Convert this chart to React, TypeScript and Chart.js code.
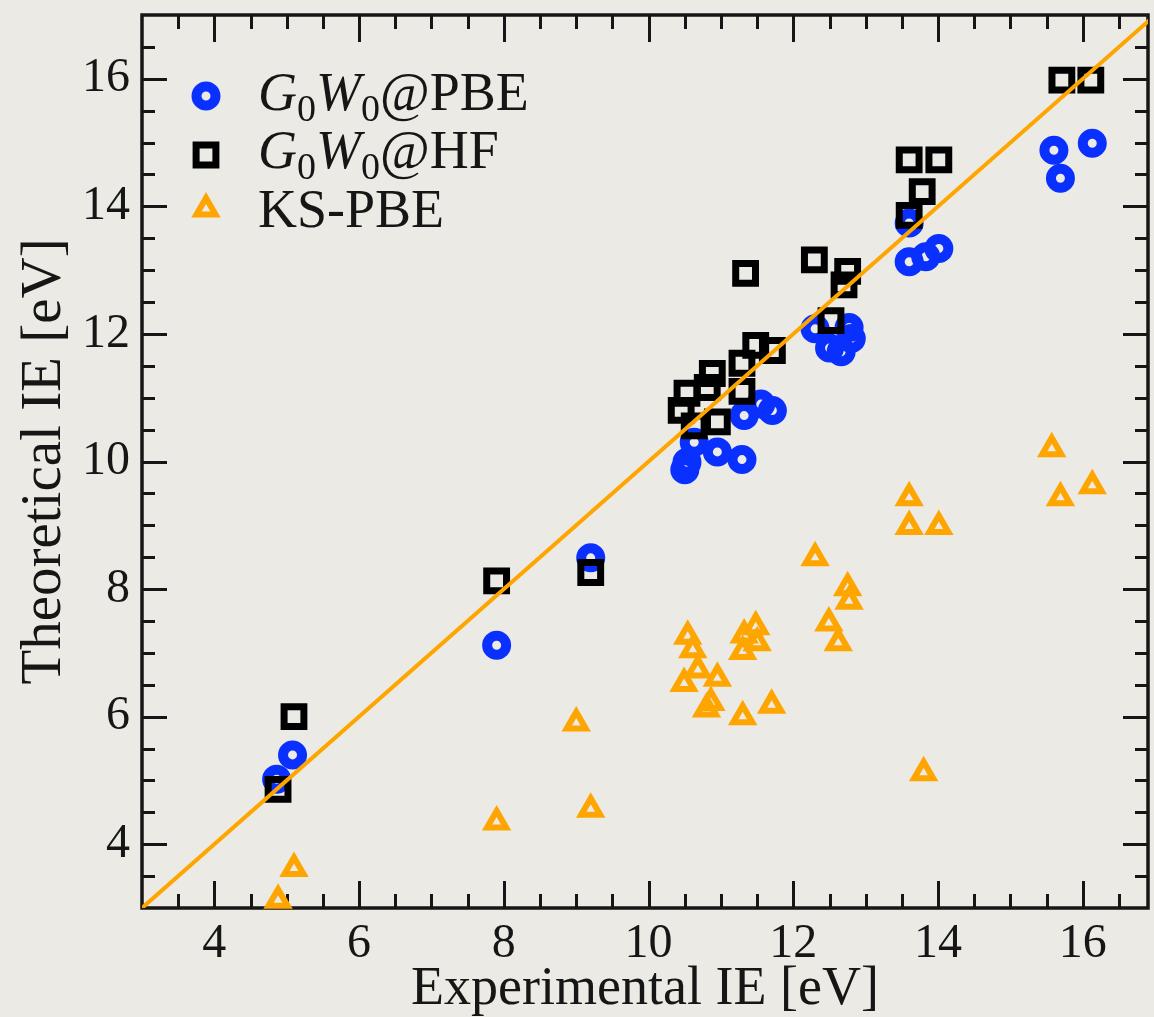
import React, { useEffect, useRef } from 'react';
import { Chart, registerables } from 'chart.js';

Chart.register(...registerables);

// ---- axes / ticks ----
const xRange = [3, 16.9];
const yRange = [3, 17];
const xMajorTicks = [4, 6, 8, 10, 12, 14, 16];
const yMajorTicks = [4, 6, 8, 10, 12, 14, 16];
const minorStep = 0.5;
const xTitle = 'Experimental IE [eV]';
const yTitle = 'Theoretical IE [eV]';

// ---- series (experimental IE, theoretical IE) ----
const seriesLabels = ['G₀W₀@PBE', 'G₀W₀@HF', 'KS-PBE'];

const g0w0PbePoints: [number, number][] = [
  [4.86, 5.02], [5.08, 5.4], [7.9, 7.12], [9.2, 8.49],
  [10.5, 9.87], [10.53, 9.99], [10.63, 10.3], [10.95, 10.15], [11.29, 10.03],
  [11.32, 10.72], [11.55, 10.9], [11.71, 10.8],
  [12.3, 12.08], [12.5, 11.78], [12.66, 11.72], [12.77, 12.1], [12.8, 11.93],
  [13.6, 13.74], [13.6, 13.13], [13.83, 13.21], [14.01, 13.34],
  [15.6, 14.88], [15.69, 14.44], [16.13, 14.99],
];

const g0w0HfPoints: [number, number][] = [
  [4.88, 4.86], [5.1, 6.0], [7.9, 8.13], [9.2, 8.26],
  [10.45, 10.8], [10.53, 11.07], [10.63, 10.56], [10.81, 11.16], [10.88, 11.38],
  [10.95, 10.62], [11.29, 11.1], [11.29, 11.54], [11.34, 12.95], [11.48, 11.82],
  [11.71, 11.74], [12.29, 13.16], [12.52, 12.21], [12.7, 12.77], [12.75, 12.98],
  [13.6, 13.86], [13.6, 14.73], [13.78, 14.23], [14.01, 14.73],
  [15.71, 15.98], [16.11, 15.98],
];

const ksPbePoints: [number, number][] = [
  [4.88, 3.12], [5.1, 3.62], [7.9, 4.35], [9.0, 5.9], [9.2, 4.55],
  [10.49, 6.52], [10.54, 7.26], [10.61, 7.05], [10.68, 6.73], [10.8, 6.12],
  [10.86, 6.22], [10.95, 6.6], [11.3, 6.0], [11.3, 7.02], [11.32, 7.28],
  [11.48, 7.41], [11.5, 7.16], [11.7, 6.18],
  [12.3, 8.49], [12.49, 7.47], [12.62, 7.16], [12.75, 8.02], [12.77, 7.81],
  [13.6, 9.43], [13.6, 8.98], [14.01, 8.98], [13.8, 5.12],
  [15.57, 10.2], [15.69, 9.43], [16.13, 9.62],
];

// y = x reference line
const diagonalPoints: [number, number][] = [[3, 3], [17, 17]];

// ---- styles ----
const BG = '#ebeae4';
const INK = '#161616';
const BLUE = '#0a30ff';
const ORANGE = '#ffa500';
const FONT = "'Liberation Serif', 'DejaVu Serif', serif";

const markerStyles = [
  { pointStyle: 'circle', radius: 9.5, borderWidth: 10, color: BLUE },
  { pointStyle: 'rect', radius: 14, borderWidth: 7, color: '#000000' },
  { pointStyle: 'triangle', radius: 11, borderWidth: 6, color: ORANGE },
];

function drawMarker(ctx: CanvasRenderingContext2D, style: string, x: number, y: number, r: number) {
  ctx.beginPath();
  if (style === 'circle') {
    ctx.arc(x, y, r, 0, Math.PI * 2);
  } else if (style === 'rect') {
    const s = Math.SQRT1_2 * r;
    ctx.rect(x - s, y - s, 2 * s, 2 * s);
  } else {
    let rad = 0;
    ctx.moveTo(x + Math.sin(rad) * r, y - Math.cos(rad) * r);
    rad += (2 * Math.PI) / 3;
    ctx.lineTo(x + Math.sin(rad) * r, y - Math.cos(rad) * r);
    rad += (2 * Math.PI) / 3;
    ctx.lineTo(x + Math.sin(rad) * r, y - Math.cos(rad) * r);
    ctx.closePath();
  }
  ctx.stroke();
}

function drawRichLabel(ctx: CanvasRenderingContext2D, label: string, x: number, y: number, size: number) {
  const hasAt = label.includes('@');
  const atIdx = label.indexOf('@');
  let cx = x;
  ctx.textBaseline = 'alphabetic';
  ctx.textAlign = 'left';
  for (let i = 0; i < label.length; i++) {
    const ch = label[i];
    let text = ch;
    let font = `${size}px ${FONT}`;
    let dy = 0;
    if (ch === '₀') {
      text = '0';
      font = `${Math.round(size * 0.7)}px ${FONT}`;
      dy = size * 0.2;
    } else if (hasAt && i < atIdx && /[A-Z]/.test(ch)) {
      font = `italic ${size}px ${FONT}`;
    }
    ctx.font = font;
    ctx.fillText(text, cx, y + dy);
    cx += ctx.measureText(text).width;
  }
}

const framePlugin = {
  id: 'frameTicksLegend',
  beforeDraw(chart: any) {
    const { ctx, width, height } = chart;
    ctx.save();
    ctx.fillStyle = BG;
    ctx.fillRect(0, 0, width, height);
    ctx.restore();
  },
  beforeDatasetsDraw(chart: any) {
    const { ctx, chartArea: a, scales } = chart;
    const xs = scales.x;
    const ys = scales.y;
    ctx.save();
    ctx.strokeStyle = INK;
    ctx.lineWidth = 3;
    ctx.lineCap = 'butt';
    const seg = (x1: number, y1: number, x2: number, y2: number) => {
      ctx.beginPath();
      ctx.moveTo(x1, y1);
      ctx.lineTo(x2, y2);
      ctx.stroke();
    };
    const xStart = Math.ceil(xRange[0] / minorStep) + 1;
    const xEnd = Math.floor(xRange[1] / minorStep);
    for (let i = xStart; i <= xEnd; i++) {
      const v = i * minorStep;
      if (v <= xRange[0] || v >= xRange[1]) continue;
      const px = Math.round(xs.getPixelForValue(v)) + 0.5;
      const len = xMajorTicks.includes(v) ? 27 : 14;
      seg(px, a.bottom, px, a.bottom - len);
      seg(px, a.top, px, a.top + len);
    }
    const yStart = Math.ceil(yRange[0] / minorStep) + 1;
    const yEnd = Math.floor(yRange[1] / minorStep);
    for (let i = yStart; i <= yEnd; i++) {
      const v = i * minorStep;
      if (v <= yRange[0] || v >= yRange[1]) continue;
      const py = Math.round(ys.getPixelForValue(v)) + 0.5;
      const len = yMajorTicks.includes(v) ? 25 : 13;
      seg(a.left, py, a.left + len, py);
      seg(a.right, py, a.right - len, py);
    }
    ctx.lineWidth = 3.5;
    ctx.strokeRect(a.left, a.top, a.right - a.left, a.bottom - a.top);
    ctx.restore();
  },
  afterDraw(chart: any) {
    const { ctx } = chart;
    ctx.save();
    const markerX = 206;
    const textX = 258;
    const markerYs = [96, 155, 209];
    const textYs = [110, 168, 227];
    seriesLabels.forEach((label, i) => {
      const st = markerStyles[i];
      ctx.strokeStyle = st.color;
      ctx.lineWidth = st.borderWidth;
      ctx.lineJoin = 'miter';
      drawMarker(ctx, st.pointStyle, markerX, markerYs[i], st.radius);
      ctx.fillStyle = INK;
      drawRichLabel(ctx, label, textX, textYs[i], 54);
    });
    ctx.restore();
  },
};

const toXY = (pts: [number, number][]) => pts.map(([x, y]) => ({ x, y }));

export default function App() {
  const canvasRef = useRef<HTMLCanvasElement | null>(null);

  useEffect(() => {
    document.body.style.margin = '0';
    const canvas = canvasRef.current;
    if (!canvas) return;

    const markerDataset = (i: number, pts: [number, number][], order: number) => ({
      label: seriesLabels[i],
      data: toXY(pts),
      pointStyle: markerStyles[i].pointStyle,
      pointRadius: markerStyles[i].radius,
      pointHoverRadius: markerStyles[i].radius,
      pointBorderWidth: markerStyles[i].borderWidth,
      pointHoverBorderWidth: markerStyles[i].borderWidth,
      pointBorderColor: markerStyles[i].color,
      pointBackgroundColor: 'rgba(0,0,0,0)',
      showLine: false,
      clip: false as const,
      order,
    });

    const chart = new Chart(canvas, {
      type: 'scatter',
      data: {
        datasets: [
          {
            label: 'y = x',
            data: toXY(diagonalPoints),
            showLine: true,
            borderColor: ORANGE,
            borderWidth: 4,
            pointRadius: 0,
            pointHoverRadius: 0,
            clip: 0,
            order: 0,
          } as any,
          markerDataset(2, ksPbePoints, 1) as any,
          markerDataset(1, g0w0HfPoints, 2) as any,
          markerDataset(0, g0w0PbePoints, 3) as any,
        ],
      },
      options: {
        animation: false,
        responsive: false,
        maintainAspectRatio: false,
        events: [],
        layout: { autoPadding: false, padding: { top: 15, right: 6, left: 0, bottom: 0 } },
        plugins: {
          legend: { display: false },
          tooltip: { enabled: false },
        },
        scales: {
          x: {
            type: 'linear',
            min: xRange[0],
            max: xRange[1],
            border: { display: false },
            grid: { display: false, drawTicks: false },
            afterBuildTicks: (scale: any) => {
              scale.ticks = xMajorTicks.map((v) => ({ value: v }));
            },
            afterFit: (scale: any) => {
              scale.height = 109;
              scale.paddingLeft = 0;
              scale.paddingRight = 0;
              scale.paddingTop = 0;
              scale.paddingBottom = 0;
            },
            ticks: {
              padding: 8,
              autoSkip: false,
              maxRotation: 0,
              color: INK,
              font: { family: FONT, size: 48 },
              callback: (v: any) => String(v),
            },
            title: {
              display: true,
              text: xTitle,
              color: INK,
              font: { family: FONT, size: 54, lineHeight: 1 },
              padding: { top: 0, bottom: 0 },
            },
          },
          y: {
            type: 'linear',
            min: yRange[0],
            max: yRange[1],
            border: { display: false },
            grid: { display: false, drawTicks: false },
            afterBuildTicks: (scale: any) => {
              scale.ticks = yMajorTicks.map((v) => ({ value: v }));
            },
            afterFit: (scale: any) => {
              scale.width = 142;
              scale.paddingLeft = 0;
              scale.paddingRight = 0;
              scale.paddingTop = 0;
              scale.paddingBottom = 0;
            },
            ticks: {
              padding: 12,
              autoSkip: false,
              color: INK,
              font: { family: FONT, size: 48 },
              callback: (v: any) => String(v),
            },
            title: {
              display: true,
              text: yTitle,
              color: INK,
              font: { family: FONT, size: 57, lineHeight: 1 },
              padding: { top: 17, bottom: 0 },
            },
          },
        },
      },
      plugins: [framePlugin],
    });

    return () => {
      chart.destroy();
    };
  }, []);

  return (
    <div style={{ position: 'absolute', left: 0, top: 0, width: 1154, height: 1017 }}>
      <canvas ref={canvasRef} width={1154} height={1017} style={{ width: 1154, height: 1017, display: 'block' }} />
    </div>
  );
}
